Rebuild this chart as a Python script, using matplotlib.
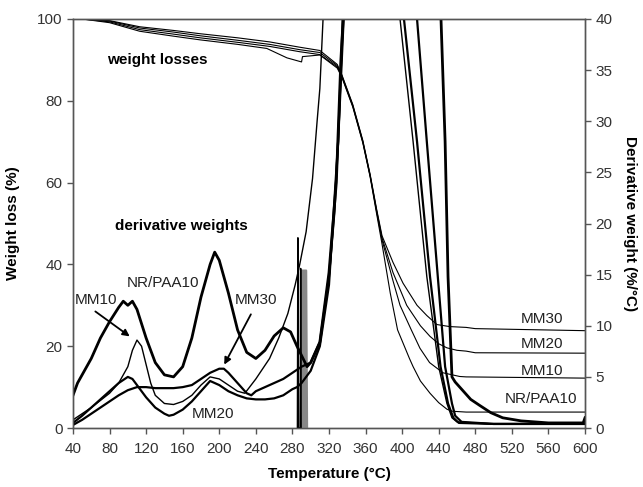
import matplotlib
matplotlib.use("Agg")
import matplotlib.pyplot as plt

plt.rcParams['font.family'] = ['Liberation Sans', 'DejaVu Sans']

# ---------------- weight loss curves (left axis, %) ----------------
w_nr_T = [50, 80, 113, 150, 179, 220, 252, 274, 290, 291, 310, 329, 334, 346, 357, 365, 372, 378,
          387, 395, 408, 412, 420, 430.5, 440, 449, 455, 470, 600]
w_nr_V = [100, 99.1, 97.0, 95.8, 94.9, 93.8, 92.8, 90.5, 89.5, 90.8, 91.2, 88.0, 85.8, 78.5, 69.7, 61.4, 52.5, 45,
          33, 24, 17, 15, 11.5, 8.5, 6.2, 4.6, 4.1, 3.9, 3.9]

w_mm10_T = [50, 80, 113, 150, 179, 220, 255, 288, 310, 329, 334, 346, 357, 365, 372, 378,
            390, 397.7, 410, 419.5, 430, 444.7, 463, 470, 600]
w_mm10_V = [100, 99.3, 97.4, 96.3, 95.4, 94.3, 93.3, 92.0, 91.3, 88.3, 86.0, 78.7, 69.9, 61.6, 53, 46,
            36, 30, 24, 19.5, 16, 13.5, 12.6, 12.5, 12.2]

w_mm20_T = [50, 80, 113, 150, 179, 220, 255, 288, 310, 329, 334, 346, 357, 365, 372, 378,
            390, 405, 420, 430.5, 440, 449, 460, 470, 480, 600]
w_mm20_V = [100, 99.5, 97.8, 96.8, 95.9, 94.8, 93.8, 92.5, 91.8, 88.6, 86.2, 78.9, 70.1, 61.8, 53.3, 46.5,
            38, 30, 25, 22.4, 20.6, 19.6, 19.0, 18.8, 18.4, 18.3]

w_mm30_T = [50, 80, 113, 150, 179, 220, 255, 288, 310, 329, 334, 346, 357, 365, 372, 378,
            390, 401, 416.3, 427, 438, 452, 470, 480, 600]
w_mm30_V = [100, 99.6, 98.1, 97.2, 96.4, 95.4, 94.4, 93.1, 92.3, 88.9, 86.4, 79.1, 70.3, 62.0, 53.6, 47,
            40.5, 35.4, 30, 27.5, 25.3, 24.8, 24.6, 24.3, 23.8]

# ---------------- derivative weight curves (right axis, %/°C) ----------------
d_nr_T = [40, 45, 50, 55, 60, 70, 80, 90, 95, 100, 105, 110, 120, 130, 140, 150, 160, 170, 180, 190, 195,
          200, 210, 220, 230, 240, 250, 260, 270, 278, 285, 296,
          300, 310, 320, 328, 333, 338, 360, 400, 440, 442.5, 447, 450.2, 454.5, 458, 465, 475, 485,
          497, 510, 530, 560, 598, 600]
d_nr_V = [3.2, 4.4, 5.2, 6.0, 6.8, 8.8, 10.4, 11.8, 12.4, 12.0, 12.4, 11.6, 8.8, 6.4, 5.2, 5.0, 6.0, 8.8, 12.8, 16.0, 17.2,
          16.4, 13.2, 9.6, 7.4, 6.8, 7.6, 9.0, 9.8, 9.4, 8.0, 6.0,
          6.4, 8.4, 15.2, 24, 36, 44, 60, 60, 42, 40, 28, 14.8, 5.0, 4.5, 3.8, 2.8, 2.2,
          1.5, 1.0, 0.7, 0.5, 0.5, 1.0]

# black glitch spikes near 286-290 °C
s_T = [285.5, 286, 286.5, 288.5, 289, 289.5]
s_V = [0, 18.6, 0, 0, 15.6, 0]

# grey glitch bars near 290-296 °C
g_T = [290, 290.5, 291, 292, 292.5, 293, 294, 294.5, 295, 296]
g_V = [0, 15.4, 15.4, 0, 15.4, 15.4, 0, 15.4, 15.4, 0]

d_mm10_T = [40, 60, 80, 90, 100, 105, 110, 115, 120, 125, 130, 140, 150, 160, 170, 180, 190, 200, 210, 220,
            228, 240, 255, 265, 275, 283, 288, 295, 302, 307, 310, 313.5, 320, 360, 390, 397.7, 412, 427,
            440, 449, 454.5, 460, 500, 550, 600]
d_mm10_V = [0.8, 2.0, 3.4, 4.4, 6.0, 7.6, 8.6, 8.0, 6.2, 4.4, 3.2, 2.4, 2.3, 2.6, 3.2, 4.2, 5.0, 4.8, 4.2, 3.6,
            3.4, 4.8, 6.8, 8.8, 11.2, 14.0, 16.0, 19.2, 24.4, 30, 33.2, 40, 48, 60, 46, 40, 28, 14.8,
            6, 2.4, 1.0, 0.6, 0.4, 0.4, 0.5]

d_mm20_T = [40, 50, 60, 70, 80, 90, 100, 105, 110, 120, 130, 140, 145, 150, 160, 170, 180, 190, 200, 210,
            220, 230, 240, 250, 260, 270, 280, 285, 290, 300, 310, 320, 330, 336, 360, 398, 402, 416.3,
            430.5, 442, 450.2, 456, 462, 500, 600]
d_mm20_V = [0.5, 1.2, 2.0, 2.8, 3.6, 4.4, 5.0, 4.8, 4.2, 3.0, 2.0, 1.4, 1.2, 1.3, 1.8, 2.6, 3.6, 4.6, 4.2, 3.6,
            3.2, 2.9, 2.8, 2.8, 2.9, 3.2, 3.8, 4.0, 4.4, 5.6, 8.0, 14.0, 28, 40, 55, 45, 40, 28,
            14.8, 6, 2.4, 1.0, 0.5, 0.4, 0.4]

d_mm30_T = [40, 50, 60, 70, 80, 90, 100, 110, 120, 130, 150, 160, 170, 180, 190, 200, 205, 210, 220, 230,
            235, 240, 250, 260, 270, 280, 290, 300, 310, 320, 326, 330, 334, 336, 360, 410, 416.3, 427,
            439, 447, 454.5, 458, 465, 500, 600]
d_mm30_V = [0.3, 0.8, 1.4, 2.0, 2.6, 3.2, 3.7, 4.0, 4.0, 3.9, 3.9, 4.0, 4.2, 4.8, 5.4, 5.8, 5.8, 5.4, 4.4, 3.4,
            3.2, 3.6, 4.0, 4.4, 4.8, 5.4, 6.0, 6.4, 8.4, 14.8, 21.2, 28, 37.6, 42, 55, 45, 40, 28,
            14.8, 6, 2.4, 1.2, 0.6, 0.4, 0.4]

x_ticks = list(range(40, 601, 40))
left_ticks = [0, 20, 40, 60, 80, 100]
right_ticks = [0, 5, 10, 15, 20, 25, 30, 35, 40]

fig = plt.figure(figsize=(6.43, 4.87), dpi=100)
ax = fig.add_axes([0.1135, 0.1211, 0.7963, 0.8399])
ax2 = ax.twinx()

for T, V in [(w_nr_T, w_nr_V), (w_mm10_T, w_mm10_V), (w_mm20_T, w_mm20_V), (w_mm30_T, w_mm30_V)]:
    ax.plot(T, V, color='black', lw=0.8)

ax2.plot(g_T, g_V, color='#888888', lw=1.6)
ax2.plot(s_T, s_V, color='black', lw=1.1)
ax2.plot(d_nr_T, d_nr_V, color='black', lw=2.0)
ax2.plot(d_mm10_T, d_mm10_V, color='black', lw=1.0)
ax2.plot(d_mm20_T, d_mm20_V, color='black', lw=1.6)
ax2.plot(d_mm30_T, d_mm30_V, color='black', lw=1.6)

ax.set_xlim(40, 600)
ax.set_ylim(0, 100)
ax2.set_ylim(0, 40)
ax.set_xticks(x_ticks)
ax.set_yticks(left_ticks)
ax2.set_yticks(right_ticks)

spine_c = '#555555'
for a in (ax, ax2):
    for s in a.spines.values():
        s.set_color(spine_c)
        s.set_linewidth(1.0)
ax.tick_params(axis='both', direction='out', length=4, width=1, color=spine_c,
               labelsize=11, labelcolor='#333333')
ax2.tick_params(axis='y', direction='out', length=4, width=1, color=spine_c,
                labelsize=11, labelcolor='#333333')
ax.tick_params(axis='x', pad=6)

ax.set_xlabel('Temperature (°C)', fontsize=11, fontweight='bold', labelpad=8)
ax.set_ylabel('Weight loss (%)', fontsize=11, fontweight='bold', labelpad=12)
ax2.set_ylabel('Derivative weight (%/°C)', fontsize=11, fontweight='bold',
               rotation=-90, labelpad=18)

ax.text(77, 90, 'weight losses', fontsize=11, fontweight='bold', va='center')
ax.text(86, 49.4, 'derivative weights', fontsize=11, fontweight='bold', va='center')
ax.text(99, 35.5, 'NR/PAA10', fontsize=11, va='center', color='#222222')
ax.text(42, 31.3, 'MM10', fontsize=11, va='center', color='#222222')
ax.text(217, 31.3, 'MM30', fontsize=11, va='center', color='#222222')
ax.text(170, 3.4, 'MM20', fontsize=11, va='center', color='#222222')
ax.text(576, 26.6, 'MM30', fontsize=11, va='center', ha='right', color='#222222')
ax.text(576, 20.5, 'MM20', fontsize=11, va='center', ha='right', color='#222222')
ax.text(576, 14.0, 'MM10', fontsize=11, va='center', ha='right', color='#222222')
ax.text(591, 7.0, 'NR/PAA10', fontsize=11, va='center', ha='right', color='#222222')

arrow = dict(arrowstyle='-|>', color='black', lw=1.3, mutation_scale=10)
ax.annotate('', xy=(104.5, 22), xytext=(62, 28.9), arrowprops=arrow)
ax.annotate('', xy=(204, 14.9), xytext=(236, 28.4), arrowprops=arrow)

fig.savefig('out.png', dpi=100)
